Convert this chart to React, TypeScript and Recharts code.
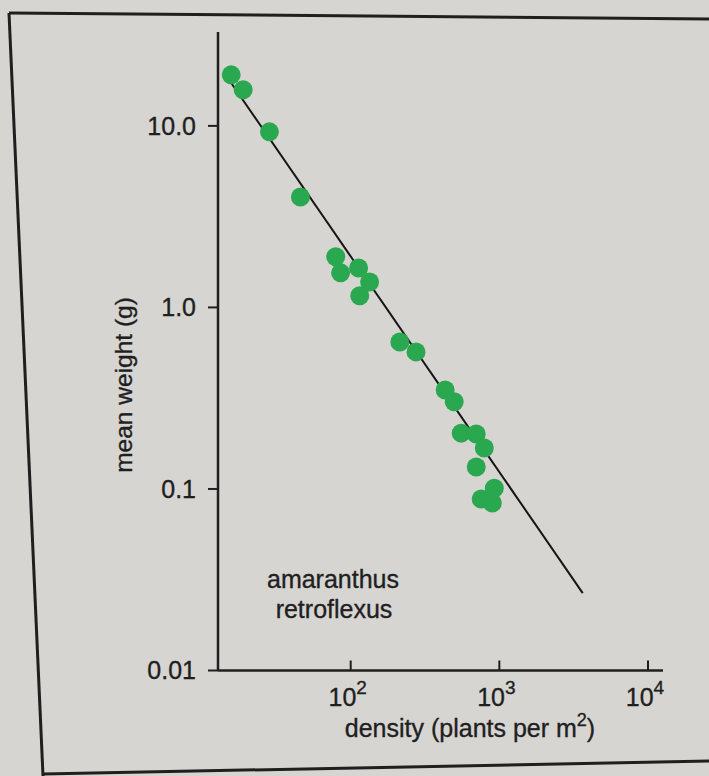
import React from 'react';
import { ScatterChart, Scatter, XAxis, YAxis } from 'recharts';

// plant density (plants per m^2)
const densities = [15.7, 18.9, 28.4, 45.9, 79.3, 85.5, 113, 134, 115, 214, 275, 432, 497, 554, 699, 792, 699, 925, 755, 897];
// mean weight (g)
const weights = [19.1, 15.8, 9.27, 4.06, 1.9, 1.55, 1.65, 1.38, 1.16, 0.645, 0.569, 0.351, 0.302, 0.203, 0.201, 0.168, 0.132, 0.101, 0.0881, 0.0837];

// fitted thinning line endpoints
const lineDensities = [15.5, 3640];
const lineWeights = [17.5, 0.0267];

const xTicks = [100, 1000, 10000];
const xTickExponents = ['2', '3', '4'];
const yTicks = [0.01, 0.1, 1, 10];
const yTickLabels = ['0.01', '0.1', '1.0', '10.0'];

const points = densities.map((d, i) => ({ x: d, y: weights[i] }));
const linePts = lineDensities.map((d, i) => ({ x: d, y: lineWeights[i] }));

const FONT = '"Liberation Sans", Arial, Helvetica, sans-serif';
const INK = '#1f1f1f';
const GREEN = '#2aa84f';
const TEXT_STROKE = { stroke: INK, strokeWidth: 0.35 };

const XTick = (props: any) => {
  const { x, y, index } = props;
  return (
    <g>
      <line x1={x} y1={y} x2={x} y2={y - 10} stroke={INK} strokeWidth={2} />
      <text x={x - 3} y={y + 35} textAnchor="middle" fontFamily={FONT} fontSize={25} fill={INK} {...TEXT_STROKE}>
        <tspan>10</tspan>
        <tspan dy={-12} fontSize={19}>{xTickExponents[index]}</tspan>
      </text>
    </g>
  );
};

const YLabel = () => (
  <text
    x={0}
    y={0}
    transform="translate(132,385) rotate(-90)"
    textAnchor="middle"
    fontFamily={FONT}
    fontSize={24.5}
    fill={INK}
    {...TEXT_STROKE}
  >
    mean weight (g)
  </text>
);

const XLabel = () => (
  <text x={470} y={737} textAnchor="middle" fontFamily={FONT} fontSize={25} fill={INK} {...TEXT_STROKE}>
    <tspan>density (plants per m</tspan>
    <tspan dy={-11} fontSize={18}>2</tspan>
    <tspan dy={11}>)</tspan>
  </text>
);

export default function App() {
  return (
    <div style={{ position: 'absolute', left: 0, top: 0, width: 709, height: 776, background: '#d7d5d2', overflow: 'hidden' }}>
      <ScatterChart width={709} height={776} margin={{ top: 32, right: 46, bottom: 65.5, left: 118 }}>
        <XAxis
          dataKey="x"
          type="number"
          scale="log"
          domain={[12.8, 12620]}
          allowDataOverflow
          ticks={xTicks}
          tick={<XTick />}
          tickLine={false}
          tickSize={0}
          tickMargin={0}
          height={40}
          axisLine={{ stroke: INK, strokeWidth: 2.5 }}
          label={<XLabel />}
        />
        <YAxis
          dataKey="y"
          type="number"
          scale="log"
          domain={[0.01, 32.9]}
          allowDataOverflow
          ticks={yTicks}
          tickFormatter={(v: number) => yTickLabels[yTicks.indexOf(v)] ?? String(v)}
          width={100}
          tickSize={10}
          tickMargin={12}
          tick={{ fontFamily: FONT, fontSize: 25, fill: INK, ...TEXT_STROKE }}
          tickLine={{ stroke: INK, strokeWidth: 2 }}
          axisLine={{ stroke: INK, strokeWidth: 2.5 }}
          label={<YLabel />}
        />
        <Scatter
          data={linePts}
          line={{ stroke: '#151515', strokeWidth: 2 }}
          shape={() => <g />}
          isAnimationActive={false}
          legendType="none"
        />
        <Scatter
          data={points}
          isAnimationActive={false}
          shape={(p: any) => <circle cx={p.cx} cy={p.cy} r={9.5} fill={GREEN} />}
        />
      </ScatterChart>
      <svg width={709} height={776} style={{ position: 'absolute', left: 0, top: 0, pointerEvents: 'none' }}>
        <line x1={9} y1={13} x2={709} y2={19} stroke={INK} strokeWidth={3} />
        <line x1={9} y1={13} x2={43} y2={776} stroke={INK} strokeWidth={3} />
        <line x1={43} y1={774} x2={709} y2={761} stroke={INK} strokeWidth={3} />
        <text x={333} y={588} textAnchor="middle" fontFamily={FONT} fontSize={25} fill={INK} {...TEXT_STROKE}>amaranthus</text>
        <text x={334} y={618} textAnchor="middle" fontFamily={FONT} fontSize={25} fill={INK} {...TEXT_STROKE}>retroflexus</text>
      </svg>
    </div>
  );
}
